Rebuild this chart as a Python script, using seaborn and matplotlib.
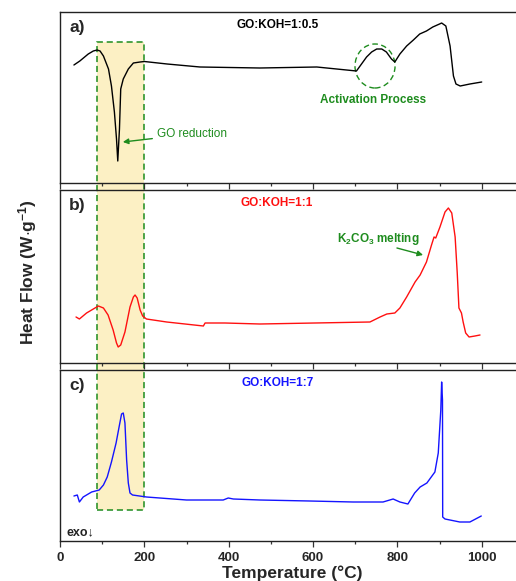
import numpy as np
import pandas as pd
import matplotlib
matplotlib.use("Agg")
import matplotlib.pyplot as plt
import seaborn as sns
from matplotlib.patches import Rectangle, Ellipse
from matplotlib.ticker import MultipleLocator

# ---------------- data (arbitrary heat-flow units) ----------------
temp_a = [33, 47, 67, 79, 88, 95, 103, 115, 122, 129, 134, 137, 141, 144, 150, 162, 174,
          190, 200, 254, 332, 474, 609, 703, 715, 727, 739, 751, 763, 774, 786, 794, 806,
          822, 838, 853, 869, 884, 900, 905, 915, 925, 933, 939, 949, 972, 1000]
flow_a = [11.8, 12.2, 12.9, 13.2, 13.3, 13.2, 12.7, 11.4, 9.7, 7.1, 4.4, 2.2, 5.4, 9.4,
          10.4, 11.4, 12.0, 12.1, 12.15, 11.9, 11.6, 11.5, 11.6, 11.2, 11.9, 12.6, 13.1,
          13.4, 13.4, 13.1, 12.4, 12.1, 12.9, 13.7, 14.3, 14.9, 15.2, 15.6, 15.9, 16.0,
          15.7, 13.7, 10.7, 9.9, 9.7, 9.9, 10.1]

temp_b = [38, 46, 63, 91, 103, 114, 126, 134, 138, 144, 154, 166, 174, 178, 183, 190, 196,
          205, 253, 340, 344, 391, 474, 735, 759, 775, 794, 806, 822, 842, 854, 869, 881,
          887, 891, 901, 913, 921, 929, 937, 942, 946, 952, 956, 962, 970, 984, 996]
flow_b = [4.6, 4.4, 5.0, 5.7, 5.5, 4.8, 3.3, 2.0, 1.6, 1.8, 3.1, 5.6, 6.6, 6.8, 6.5, 5.3,
          4.7, 4.4, 4.1, 3.7, 4.0, 4.0, 3.9, 4.1, 4.6, 4.9, 5.0, 5.5, 6.6, 8.1, 8.8, 10.1,
          11.8, 12.6, 12.5, 13.6, 15.1, 15.5, 15.0, 12.6, 9.0, 5.5, 5.0, 4.1, 3.0, 2.6,
          2.7, 2.8]

temp_c = [33, 41, 46, 55, 75, 93, 103, 112, 122, 133, 141, 146, 150, 154, 158, 162, 166,
          172, 205, 300, 387, 399, 411, 474, 592, 695, 766, 790, 806, 825, 841, 854, 870,
          889, 897, 903, 905, 907, 907.5, 913, 948, 972, 999]
flow_c = [4.5, 4.6, 3.9, 4.4, 4.9, 5.1, 5.6, 6.4, 7.9, 9.8, 11.6, 12.7, 12.8, 11.8, 8.1,
          5.8, 4.8, 4.6, 4.4, 4.1, 4.1, 4.3, 4.2, 4.1, 4.0, 3.9, 3.9, 4.2, 3.9, 3.7, 4.8,
          5.4, 5.8, 6.9, 8.8, 13.1, 15.9, 14.1, 2.4, 2.2, 1.9, 1.9, 2.5]

panel_labels = ["a)", "b)", "c)"]
sample_labels = ["GO:KOH=1:0.5", "GO:KOH=1:1", "GO:KOH=1:7"]
colors = ["#000000", "#FF1010", "#1414FF"]
x_ticks = [0, 200, 400, 600, 800, 1000]

# ---------------- style ----------------
sns.set_style("ticks")
plt.rcParams["font.family"] = ["Liberation Sans", "DejaVu Sans"]
plt.rcParams["mathtext.fontset"] = "custom"
plt.rcParams["mathtext.rm"] = "Liberation Sans"
plt.rcParams["mathtext.bf"] = "Liberation Sans:bold"
plt.rcParams["mathtext.it"] = "Liberation Sans:italic"

W, H = 516, 581
fig = plt.figure(figsize=(W / 100, H / 100), dpi=100)

green = "#1E8C1E"
left = 60 / W
width = 1100 * 0.4217 / W
# (top_px, bottom_px) of each panel
bounds = [(12, 183), (190, 363), (370, 541)]
axes = []
for (t, b) in bounds:
    ax = fig.add_axes([left, 1 - b / H, width, (b - t) / H])
    ax.set_facecolor("none")
    axes.append(ax)

datasets = [(temp_a, flow_a), (temp_b, flow_b), (temp_c, flow_c)]
for i, ax in enumerate(axes):
    t, f = datasets[i]
    df = pd.DataFrame({"T": t, "HF": f})
    sns.lineplot(data=df, x="T", y="HF", ax=ax, color=colors[i], lw=1.0,
                 sort=False, estimator=None)
    ax.set_xlim(0, 1100)
    ax.set_ylim(0, (bounds[i][1] - bounds[i][0]) / 10)
    ax.set_yticks([])
    ax.set_ylabel("")
    ax.set_xlabel("")
    ax.xaxis.set_major_locator(MultipleLocator(200))
    ax.xaxis.set_minor_locator(MultipleLocator(100))
    ax.tick_params(axis="x", which="major", direction="out", length=4.5, width=0.9,
                   color="#333333")
    ax.tick_params(axis="x", which="minor", direction="out", length=2.5, width=0.9,
                   color="#333333")
    for s in ax.spines.values():
        s.set_linewidth(1.0)
        s.set_color("#222222")
    ax.text(0.02, 0.91, panel_labels[i], transform=ax.transAxes, fontsize=12.5,
            fontweight="bold", va="center", ha="left")
    ax.text(515, 0.925 * ax.get_ylim()[1], sample_labels[i], fontsize=8.5,
            fontweight="bold", color=colors[i], ha="center", va="center")
    if i < 2:
        ax.set_xticklabels([])

axes[2].set_xticks(x_ticks)
axes[2].set_xticklabels([str(v) for v in x_ticks], fontsize=9.5, fontweight="bold")
axes[2].set_xlabel("Temperature (°C)", fontsize=12.5, fontweight="bold", labelpad=1)

fig.text(28 / W, 1 - 272 / H, r"Heat Flow (W$\cdot$g$^{\mathbf{-1}}$)", rotation=90,
         fontsize=12.5, fontweight="bold", ha="center", va="center")

# highlighted region spanning all panels (in figure coordinates from data transforms)
fig.canvas.draw()
inv = fig.transFigure.inverted()
x0, y_top = inv.transform(axes[0].transData.transform((88, (183 - 42) / 10)))
x1, y_bot = inv.transform(axes[2].transData.transform((200, (541 - 510) / 10)))
rect = Rectangle((x0, y_bot), x1 - x0, y_top - y_bot, transform=fig.transFigure,
                 facecolor="#FCF0C4", edgecolor=green, lw=1.1, ls=(0, (4, 2.5)),
                 zorder=-1)
fig.patches.append(rect)

# annotations on panel a
axa = axes[0]
axa.add_patch(Ellipse((747, 11.7), 95, 4.4, fill=False, edgecolor=green, lw=1.0,
                      ls=(0, (4, 2.5))))
axa.text(742, 8.3, "Activation Process", color=green, fontsize=8.5, fontweight="bold",
         ha="center", va="center")
axa.annotate("GO reduction", xy=(149, 4.1), xytext=(230, 4.9), color=green, fontsize=8.5,
             ha="left", va="center",
             arrowprops=dict(arrowstyle="-|>", color=green, lw=1.0, mutation_scale=8,
                             shrinkA=1, shrinkB=0))

# annotation on panel b
axb = axes[1]
axb.text(754, 12.4, r"K$_{\mathbf{2}}$CO$_{\mathbf{3}}$ melting", color=green, fontsize=8.5,
         fontweight="bold", ha="center", va="center")
axb.annotate("", xy=(861, 10.8), xytext=(799, 11.5),
             arrowprops=dict(arrowstyle="-|>", color=green, lw=1.0, mutation_scale=8,
                             shrinkA=0, shrinkB=0))

# exo marker on panel c
axes[2].text(0.013, 0.05, "exo↓", transform=axes[2].transAxes, fontsize=9,
             fontweight="bold", ha="left", va="center", color="#222222")

fig.savefig("out.png", dpi=100)
